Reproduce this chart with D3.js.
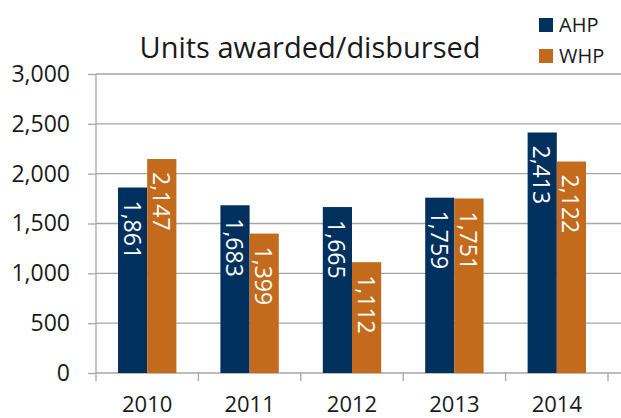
<!DOCTYPE html>
<html><head><meta charset="utf-8">
<script src="https://cdn.jsdelivr.net/npm/d3@7"></script>
<style>body{margin:0;background:#fff}svg{display:block}text{font-family:"Open Sans",sans-serif}</style>
</head><body><svg id="c" width="621" height="418"></svg>
<script>
const categories = ["2010","2011","2012","2013","2014"];
const seriesNames = ["AHP","WHP"];
const ahpValues = [1861,1683,1665,1759,2413];
const whpValues = [2147,1399,1112,1751,2122];
const yTicks = [0,500,1000,1500,2000,2500,3000];
const colors = {AHP:"#00305E", WHP:"#C46A1C"};

const svg = d3.select("#c");
const x = d3.scaleBand().domain(categories).range([96,608]).paddingInner(0.43).paddingOuter(0.215);
const x0 = d3.scaleBand().domain(categories).range([96,608]);
const xs = d3.scaleBand().domain(seriesNames).range([0, x.bandwidth()]);
const y = d3.scaleLinear().domain([0,3000]).range([373,74]);
const fmt = d3.format(",");

// gridlines
svg.append("g").selectAll("line").data(yTicks.filter(d=>d>0)).join("line")
  .attr("x1",96).attr("x2",621).attr("y1",d=>y(d)).attr("y2",d=>y(d))
  .attr("stroke","#a6a6a6").attr("stroke-width",1.3);

// y axis
const yAxis = svg.append("g").attr("transform","translate(96,0)")
  .call(d3.axisLeft(y).tickValues(yTicks).tickFormat(fmt).tickSize(8).tickPadding(18));
yAxis.select(".domain").attr("stroke","#a6a6a6").attr("stroke-width",1.3).attr("d","M0,373V74");
yAxis.selectAll(".tick line").attr("stroke","#a6a6a6").attr("stroke-width",1.3);
yAxis.selectAll(".tick text").attr("font-size",23).attr("fill","#1a1a1a").attr("font-family","Open Sans");

// x axis
const xAxis = svg.append("g").attr("transform","translate(0,373)")
  .call(d3.axisBottom(x0).tickSize(0).tickPadding(23));
xAxis.select(".domain").attr("stroke","#a6a6a6").attr("stroke-width",1.3).attr("d","M96,0H621");
xAxis.selectAll(".tick text").attr("font-size",22).attr("fill","#1a1a1a").attr("font-family","Open Sans");
svg.append("g").selectAll("line").data(categories.concat(["end"])).join("line")
  .attr("x1",(d,i)=>96+i*x0.step()).attr("x2",(d,i)=>96+i*x0.step())
  .attr("y1",373).attr("y2",381).attr("stroke","#a6a6a6").attr("stroke-width",1.3);

// bars
const rows = categories.map((c,i)=>({cat:c, AHP:ahpValues[i], WHP:whpValues[i]}));
const g = svg.append("g");
seriesNames.forEach(s=>{
  g.selectAll("rect."+s).data(rows).join("rect").attr("class",s)
    .attr("x",d=>x(d.cat)+xs(s)).attr("width",xs.bandwidth())
    .attr("y",d=>y(d[s])).attr("height",d=>y(0)-y(d[s]))
    .attr("fill",colors[s]);
  g.selectAll("text."+s).data(rows).join("text").attr("class",s)
    .attr("transform",d=>`translate(${x(d.cat)+xs(s)+xs.bandwidth()/2},${y(d[s])+13}) rotate(90)`)
    .attr("text-anchor","start").attr("dominant-baseline","central")
    .attr("font-size",23).attr("fill","#fff").text(d=>fmt(d[s]));
});

// title
svg.append("text").attr("x",310).attr("y",58).attr("text-anchor","middle")
  .attr("font-size",29).attr("fill","#1a1a1a").text("Units awarded/disbursed");

// legend
const lg = svg.append("g");
seriesNames.forEach((s,i)=>{
  lg.append("rect").attr("x",539).attr("y",18+i*31).attr("width",14).attr("height",14).attr("fill",colors[s]);
  lg.append("text").attr("x",559).attr("y",32+i*31)
    .attr("font-size",20).attr("fill","#1a1a1a").text(s);
});
</script></body></html>
